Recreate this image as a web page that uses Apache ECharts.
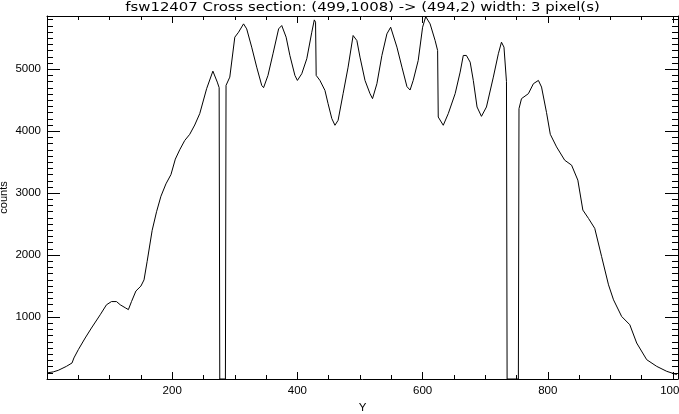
<!DOCTYPE html>
<html>
<head>
<meta charset="utf-8">
<script src="https://cdn.jsdelivr.net/npm/echarts@6/dist/echarts.min.js"></script>
<style>html,body{margin:0;padding:0;background:#fff;}#c{width:679px;height:414px;}</style>
</head>
<body>
<div id="c"></div>
<script>
var titleText = "fsw12407 Cross section: (499,1008) -> (494,2) width: 3 pixel(s)";
var xName = "Y";
var yName = "counts";
var xTicks = [200, 400, 600, 800, 1000];
var yTicks = [1000, 2000, 3000, 4000, 5000];
var pixelY = [0,10,18,31,40,43,50,61,71,85,95,103,111,117,125,130,135,142,150,155,160,168,175,182,190,198,205,212,220,228,236,244,255,265,272,275,276,285,286,292,300,306,314,319,327,335,343,346,353,361,370,375,382,388,396,400,407,415,423,427,429,430,436,444,449,455,460,465,473,481,489,495,500,508,516,520,527,535,543,549,559,567,575,580,585,593,600,605,612,620,624,625,633,641,652,660,665,670,676,681,687,694,702,713,721,726,730,734,735,753,754,758,769,777,785,790,798,804,814,827,838,848,856,865,875,886,897,905,918,931,942,958,974,990,1006];
var counts = [98,115,140,204,259,340,473,662,823,1037,1198,1250,1250,1198,1150,1120,1250,1420,1500,1600,1900,2400,2700,2950,3150,3300,3550,3700,3850,3950,4100,4284,4687,4970,4793,4703,0,0,4740,4873,5518,5598,5733,5652,5357,5034,4740,4703,4901,5250,5652,5706,5518,5223,4901,4820,4928,5170,5598,5797,5760,4901,4820,4659,4445,4204,4096,4176,4606,5034,5545,5464,5196,4820,4606,4526,4767,5223,5572,5679,5357,5034,4720,4665,4820,5142,5679,5850,5733,5464,5303,4229,4096,4284,4606,4954,5223,5223,5115,4820,4391,4240,4391,4873,5250,5437,5357,4800,0,0,4364,4526,4606,4767,4820,4713,4300,3950,3747,3532,3452,3210,2727,2593,2432,1975,1520,1278,1009,876,581,312,204,124,71];

var XMAX = 1008, YMAX = 5860;
var data = pixelY.map(function(x, i){ return [x, counts[i]]; });
var FONT = 'Liberation Sans';
var chart = echarts.init(document.getElementById('c'), null, {renderer: 'canvas'});
var blk = {color: '#000', width: 1};
function xAx(pos, show) {
  return {
    type: 'value', position: pos, min: 0, max: XMAX, interval: 200,
    name: show ? xName : '', nameLocation: 'middle', nameGap: 20,
    nameTextStyle: {fontFamily: FONT, fontSize: 11.5, color: '#000'},
    axisLine: {show: true, onZero: false, lineStyle: blk},
    axisTick: {show: true, inside: true, length: 7, lineStyle: blk},
    minorTick: {show: true, splitNumber: 4, length: 4, lineStyle: blk},
    splitLine: {show: false},
    axisLabel: {show: show, margin: 6, fontFamily: FONT, fontSize: 11.5, color: '#000',
      showMinLabel: false, showMaxLabel: false, hideOverlap: false,
      formatter: function(v){ return xTicks.indexOf(v) >= 0 ? String(v) : ''; }}
  };
}
function yAx(pos, show) {
  return {
    type: 'value', position: pos, min: 0, max: YMAX, interval: 1000,
    axisLine: {show: true, onZero: false, lineStyle: blk},
    axisTick: {show: true, inside: true, length: 13, lineStyle: blk},
    minorTick: {show: true, splitNumber: 10, length: 6, lineStyle: blk},
    splitLine: {show: false},
    axisLabel: {show: show, margin: 6, fontFamily: FONT, fontSize: 11.5, color: '#000',
      showMinLabel: false, showMaxLabel: false,
      formatter: function(v){ return yTicks.indexOf(v) >= 0 ? String(v) : ''; }}
  };
}
chart.setOption({
  animation: false,
  backgroundColor: '#fff',
  grid: {left: 47, right: 1, top: 16, bottom: 35, containLabel: false, outerBoundsMode: 'none'},
  xAxis: [xAx('bottom', true), xAx('top', false)],
  yAxis: [yAx('left', true), yAx('right', false)],
  graphic: [
    {type: 'text', x: 362.5, y: 7.5, scaleX: 1.24, style: {text: titleText, font: '12px "DejaVu Sans"', fill: '#000', align: 'center', verticalAlign: 'middle'}},
    {type: 'text', x: 4, y: 197.5, rotation: Math.PI / 2, style: {text: yName, font: '11px "Liberation Sans"', fill: '#000', align: 'center', verticalAlign: 'middle'}}
  ],
  series: [{type: 'line', data: data, xAxisIndex: 0, yAxisIndex: 0, showSymbol: false, symbol: 'none',
    lineStyle: {color: '#000', width: 1}, clip: true}]
});
</script>
</body>
</html>
